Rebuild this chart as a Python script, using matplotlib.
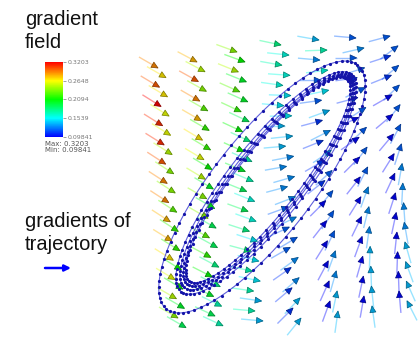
import numpy as np
import matplotlib.pyplot as plt
from matplotlib.collections import LineCollection, PolyCollection
from matplotlib.colors import LinearSegmentedColormap, Normalize
from matplotlib.cm import ScalarMappable

W, H = 418, 337

## colour range of |grad|
vmin, vmax = 0.09841, 0.3203
bar_ticks = [0.09841, 0.1539, 0.2094, 0.2648, 0.3203]
bar_labels = ['0.09841', '0.1539', '0.2094', '0.2648', '0.3203']

## glyph columns, head of first and last glyph (px)
col_x_top = [158, 197, 237, 281, 319, 356, 390]
col_x_bot = [178, 215, 255, 293, 330, 364, 399]
col_y_top = [68, 62, 52, 45, 40, 38, 36]
col_y_bot = [318, 316, 311, 308, 301, 296, 291]

## |grad| of each glyph, top to bottom (front / back layer)
mag_front = [
    [0.29, 0.30, 0.32, 0.31, 0.31, 0.30, 0.29, 0.29, 0.28, 0.28, 0.27, 0.26, 0.25, 0.24],
    [0.28, 0.30, 0.29, 0.28, 0.27, 0.26, 0.25, 0.24, 0.24, 0.23, 0.22, 0.21, 0.20, 0.19],
    [0.24, 0.25, 0.23, 0.22, 0.21, 0.21, 0.20, 0.19, 0.19, 0.18, 0.18, 0.17, 0.17, 0.17],
    [0.18, 0.17, 0.16, 0.15, 0.14, 0.14, 0.13, 0.13, 0.12, 0.12, 0.12, 0.11, 0.11, 0.11],
    [0.14, 0.13, 0.12, 0.12, 0.11, 0.11, 0.11, 0.11, 0.10, 0.10, 0.10, 0.10, 0.10, 0.10],
    [0.12, 0.12, 0.11, 0.11, 0.10, 0.10, 0.10, 0.10, 0.10, 0.10, 0.10, 0.10, 0.10, 0.10],
    [0.12, 0.11, 0.11, 0.10, 0.10, 0.10, 0.10, 0.10, 0.10, 0.10, 0.10, 0.10, 0.10, 0.10],
]
mag_back = [
    [0.27, 0.27, 0.26, 0.26, 0.25, 0.24, 0.24, 0.23, 0.22, 0.22, 0.21, 0.21, 0.20, 0.19],
    [0.25, 0.24, 0.23, 0.22, 0.22, 0.21, 0.20, 0.20, 0.19, 0.19, 0.18, 0.18, 0.17, 0.17],
    [0.21, 0.20, 0.20, 0.19, 0.18, 0.17, 0.17, 0.16, 0.16, 0.15, 0.15, 0.15, 0.14, 0.14],
    [0.16, 0.16, 0.15, 0.15, 0.14, 0.13, 0.13, 0.13, 0.13, 0.12, 0.13, 0.13, 0.14, 0.14],
    [0.17, 0.16, 0.15, 0.14, 0.13, 0.13, 0.12, 0.12, 0.12, 0.12, 0.13, 0.13, 0.14, 0.14],
    [0.13, 0.12, 0.12, 0.12, 0.12, 0.12, 0.12, 0.13, 0.13, 0.13, 0.14, 0.14, 0.14, 0.14],
    [0.12, 0.12, 0.12, 0.12, 0.12, 0.12, 0.13, 0.13, 0.13, 0.13, 0.14, 0.14, 0.14, 0.14],
]
## glyph direction in degrees (0 = right, 90 = up)
ang = [
    [-30, -31, -32, -32, -32, -33, -33, -33, -33, -32, -32, -31, -30, -30],
    [-28, -29, -30, -30, -31, -31, -31, -30, -30, -29, -28, -27, -26, -25],
    [-20, -22, -24, -25, -25, -24, -23, -22, -20, -18, -15, -12, -8, -5],
    [-12, -10, -8, -5, 0, 5, 10, 15, 20, 25, 30, 35, 40, 45],
    [-10, -5, 0, 8, 15, 22, 30, 38, 45, 52, 58, 62, 66, 70],
    [-5, 0, 8, 15, 25, 35, 45, 52, 58, 64, 70, 74, 78, 80],
    [15, 18, 22, 30, 40, 50, 58, 65, 72, 78, 84, 88, 92, 95],
]
back_turn = [0, 0, 0, 6, 12, 18, 22]

## trajectory loops (ellipses): centre, semi axes
loop_cx = [268, 268, 267, 266, 262]
loop_cy = [180, 181, 182, 183, 187]
loop_a = [128, 131, 134, 138, 155]
loop_b = [31, 33, 35, 38, 50]
tilt = 52

cmap = LinearSegmentedColormap.from_list(
    'grad', ['#0000ff', '#00ffff', '#00ff00', '#ffff00', '#ff0000'])
norm = Normalize(vmin, vmax)


def shade(c, f):
    c = np.array(c)
    c[:, :3] = c[:, :3] * f
    return c


def glyphs(ax, hx, hy, angles, mags, length=22, head=6.5, hw=6.0):
    a = np.radians(angles)
    ux, uy = np.cos(a), -np.sin(a)
    tx, ty = hx - length * ux, hy - length * uy
    c = cmap(norm(mags))
    segs = np.stack([np.c_[tx, ty], np.c_[hx, hy]], axis=1)
    shafts = LineCollection(segs, colors=c, linewidths=1.0, alpha=0.4, zorder=1)
    ax.add_collection(shafts)

    bx, by = hx - head * ux, hy - head * uy
    px, py = -uy, ux
    tri = np.stack([np.c_[hx, hy],
                    np.c_[bx + hw / 2 * px, by + hw / 2 * py],
                    np.c_[bx - hw / 2 * px, by - hw / 2 * py]], axis=1)
    heads = PolyCollection(tri, facecolors=shade(c, 0.82), edgecolors=shade(c, 0.5),
                           linewidths=0.5, zorder=3)
    ax.add_collection(heads)


fig = plt.figure(figsize=(W / 100, H / 100), dpi=100)
ax = fig.add_axes([0, 0, 1, 1])
ax.set_xlim(0, W)
ax.set_ylim(H, 0)
ax.axis('off')

## field glyphs, back layer sits half a row lower and a bit to the right
for i in range(len(col_x_top)):
    n = len(mag_front[i])
    hx = np.linspace(col_x_top[i], col_x_bot[i], n)
    hy = np.linspace(col_y_top[i], col_y_bot[i], n)
    step = hy[1] - hy[0]
    glyphs(ax, hx + 8, hy + step / 2, np.array(ang[i]) + back_turn[i], mag_back[i])
    glyphs(ax, hx, hy, ang[i], mag_front[i])

## trajectory
t = np.linspace(0, 2 * np.pi, 400)
th = np.radians(tilt)
d = np.array([np.cos(th), -np.sin(th)])
nrm = np.array([np.sin(th), np.cos(th)])
for cx, cy, a, b in zip(loop_cx, loop_cy, loop_a, loop_b):
    x = cx + a * np.cos(t) * d[0] + b * np.sin(t) * nrm[0]
    y = cy + a * np.cos(t) * d[1] + b * np.sin(t) * nrm[1]
    ax.plot(x, y, color='#2a2ad0', lw=0.8, alpha=0.75, zorder=2)
    ax.plot(x[::5], y[::5], 'o', ms=2.3, color='#1414a8', mec='none', zorder=4)

## labels
font = 'Liberation Sans'
ax.text(25, 25, 'gradient', fontsize=14.5, family=font, color='#111111')
ax.text(25, 48, 'field', fontsize=14.5, family=font, color='#111111')
ax.text(25, 227, 'gradients of', fontsize=14.5, family=font, color='#111111')
ax.text(25, 250, 'trajectory', fontsize=14.5, family=font, color='#111111')
ax.annotate('', xy=(71, 268), xytext=(45, 268),
            arrowprops=dict(arrowstyle='-|>', color='#0000ff', lw=1.8,
                            mutation_scale=9, shrinkA=0, shrinkB=0))

## colour bar
cax = fig.add_axes([45 / W, 1 - 137 / H, 18 / W, 75 / H])
cb = fig.colorbar(ScalarMappable(norm, cmap), cax=cax, ticks=bar_ticks)
cb.ax.set_yticklabels(bar_labels, fontsize=4.5, color='#777777')
cb.outline.set_visible(False)
cax.tick_params(length=2, width=0.5, color='#777777', pad=1)
ax.text(45, 146, 'Max: 0.3203', fontsize=5, color='#555555')
ax.text(45, 152, 'Min: 0.09841', fontsize=5, color='#555555')

fig.savefig('out.png', dpi=100)
